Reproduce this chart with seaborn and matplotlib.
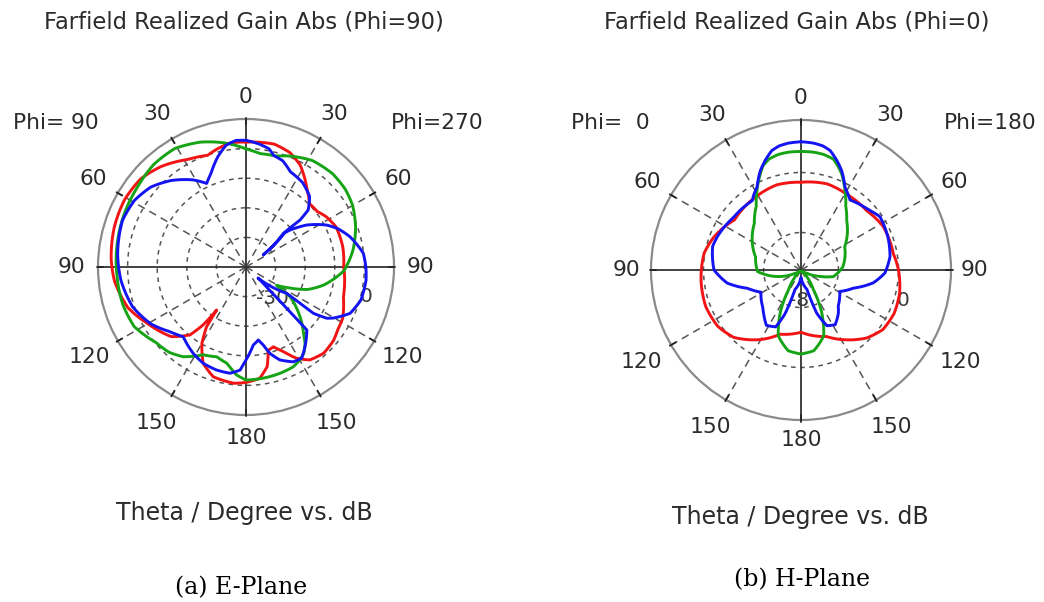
import numpy as np
import pandas as pd
import matplotlib
matplotlib.use("Agg")
import matplotlib.pyplot as plt
import seaborn as sns

# ---------------- data (theta clockwise from top in degrees, gain in dB) ----------------
# E-plane (Phi = 90 / 270)
e_red_theta = [0, 13, 21, 28, 37, 45, 52, 58, 66, 78, 90, 107, 118, 124, 130, 138, 145.5, 151, 156, 161,
               165, 168, 173, 180, 186, 196.6, 204, 210, 213.4, 214.3, 216.5, 219.5, 227, 240, 251, 264,
               273, 287, 299, 310, 320, 331.6, 341, 346.5, 353]
e_red_gain = [2.2, 2.6, 1.4, -1.0, -6.0, -9.7, -9.5, -8.0, -6.7, -6.6, -7.0, -5.6, -3.0, -2.5, -1.4, -0.8,
              -1.9, -4.7, -8.7, -11.5, -10.9, -5.6, -2.1, -1.0, -0.5, -1.3, -4.4, -10.2, -15.8, -22.4,
              -15.7, -10.3, -5.5, -1.7, 2.2, 4.7, 5.6, 6.5, 6.9, 6.4, 4.4, 1.3, -0.1, 1.1, 2.3]

e_green_theta = [0, 7, 15, 22, 32, 43, 52, 60, 70, 81, 92, 103, 110, 116, 121, 124, 134, 139, 142.4, 146,
                 150, 154.6, 162, 171, 180, 185, 191, 198, 206, 215, 222, 230, 242, 253, 267, 282, 294,
                 306, 318, 329, 340, 350, 356]
e_green_gain = [-0.1, -1.4, -1.2, 0.4, 2.4, 3.0, 2.6, 1.6, -0.6, -3.4, -6.8, -13.0, -17.8, -24.0, -28.0,
                -22.0, -14.1, -10.4, -7.3, -5.0, -3.7, -2.7, -2.3, -2.0, -1.8, -3.4, -6.8, -8.1, -7.0,
                -3.0, -1.2, -0.3, 2.8, 3.5, 3.7, 4.3, 4.9, 5.5, 6.6, 6.7, 4.9, 2.6, 1.0]

e_blue_theta = [0, 6, 11, 14, 19, 25, 34, 42, 47.5, 49, 48, 55, 48.5, 50, 55.3, 62.5, 67.3, 73.8, 83.3,
                90, 96.3, 106, 114, 120.3, 122.4, 124.5, 123.9, 122.9, 132.5, 134.6, 135.5, 136, 143.5,
                148.6, 153.5, 160, 164.5, 167.5, 170.4, 174.7, 180, 183.3, 188.6, 195.9, 203.9, 211.4,
                222, 229.6, 239, 250.6, 264, 276, 290.7, 300.8, 310, 319, 328.8, 334.8, 339.4, 345.6,
                350.7, 355.5]
e_blue_gain = [2.8, 1.8, 0.7, -1.2, -2.0, -4.5, -5.7, -7.9, -11.5, -15.8, -23.0, -32.9, -22.5, -20.6,
               -15.1, -9.3, -6.4, -3.4, -0.1, 0.5, 0.8, 0.4, -1.5, -5.8, -7.7, -12.4, -18.0, -23.6,
               -34.5, -29.0, -19.7, -10.4, -6.5, -3.9, -4.2, -6.6, -9.7, -13.0, -15.0, -13.5, -8.6,
               -5.1, -3.7, -3.8, -4.4, -5.8, -8.3, -6.3, -2.6, 0.6, 2.5, 3.6, 4.6, 3.9, 2.0, -1.3,
               -5.6, -8.8, -6.3, -1.6, 1.7, 2.9]

# H-plane (Phi = 0 / 180)
h_red_theta = [0, 17, 31, 48, 62, 80, 90, 103, 115, 126, 136, 147, 159, 180, 198, 210, 225, 236, 249,
               264, 280, 291, 307, 330, 344]
h_red_gain = [-1.3, -1.0, -1.2, -1.2, -0.6, -0.5, 0.0, 0.5, 0.7, 0.5, -0.4, -1.9, -3.5, -4.7, -4.0,
              -2.3, -0.3, 0.4, 0.6, 0.4, 0.1, -0.6, -1.9, -1.5, -1.2]

h_blue_theta = [0, 5.7, 10, 13.7, 18, 22.3, 28, 32.4, 35, 47, 56, 69, 81.5, 92, 100, 109, 119, 134, 139,
                148, 155, 160, 163, 180, 197, 200, 204, 212, 221, 226, 241, 251, 260, 270, 285, 292,
                308, 325, 327.6, 332, 337.7, 342, 346.3, 350, 354.3]
h_blue_gain = [4.1, 4.0, 3.8, 3.4, 2.4, 1.3, -0.5, -1.2, -1.6, -1.0, -0.3, -0.6, -1.0, -1.8, -3.2, -5.6,
               -7.1, -6.1, -5.4, -4.4, -4.8, -6.9, -10.3, -12.0, -10.3, -6.8, -4.7, -4.3, -5.4, -5.9,
               -6.9, -5.5, -3.0, -1.4, -0.8, -1.0, -1.6, -1.7, -1.2, -0.5, 1.3, 2.4, 3.4, 3.8, 4.0]

h_green_theta = [0, 6, 11, 16.3, 20, 23, 29, 35, 42.6, 62, 85.5, 101.5, 109, 119, 135, 147.7, 154, 161,
                 171, 180, 189, 199, 206, 212.3, 225, 241, 251, 268, 286, 315, 325, 331, 337, 340, 344,
                 349, 354]
h_green_gain = [2.8, 2.8, 2.7, 2.4, 1.6, 0.9, -0.9, -2.6, -4.0, -6.4, -7.4, -8.6, -10.4, -12.1, -12.8,
                -9.9, -6.7, -3.7, -2.1, -1.8, -2.1, -3.7, -6.7, -9.9, -12.8, -12.1, -10.4, -7.2, -6.7,
                -4.2, -2.6, -0.9, 0.9, 1.8, 2.4, 2.7, 2.8]

angle_ticks = [0, 30, 60, 90, 120, 150, 180, 210, 240, 270, 300, 330]
angle_tick_labels = ["0", "30", "60", "90", "120", "150", "180", "150", "120", "90", "60", "30"]

series_colors = {"red": "#f21414", "green": "#16a416", "blue": "#1414f2"}

# ---------------- styling ----------------
sns.set_theme(style="white")
plt.rcParams['font.family'] = ['DejaVu Sans']
TXT = "#2b2b2b"

W, H = 1044, 602
fig = plt.figure(figsize=(W / 100, H / 100), dpi=100)
fig.patch.set_facecolor("white")


def px_rect(cx, cy, r):
    return [(cx - r) / W, 1 - (cy + r) / H, 2 * r / W, 2 * r / H]


def closed(theta, gain):
    # close the loop by returning to the first sample one full turn later
    t = list(theta) + [theta[0] + 360]
    g = list(gain) + [gain[0]]
    return np.deg2rad(t), np.array(g)


def panel(cx, cy, rad, rmin, rmax, rings, ring_texts, curves, kmap):
    ax = fig.add_axes(px_rect(cx, cy, rad), projection="polar")
    ax.set_theta_zero_location("N")
    ax.set_theta_direction(-1)
    ax.set_facecolor("none")
    ax.grid(False)

    # data curves via seaborn
    frames = []
    for name, (th, gn) in curves.items():
        t, g = closed(th, gn)
        frames.append(pd.DataFrame({"theta": t, "gain": g, "series": name}))
    df = pd.concat(frames, ignore_index=True)
    sns.lineplot(data=df, x="theta", y="gain", hue="series", palette=series_colors,
                 sort=False, estimator=None, ax=ax, legend=False,
                 linewidth=2.1, zorder=4)
    # draw segments along the polar grid (arcs) rather than as chords
    for ln in ax.lines:
        ln.get_path()._interpolation_steps = 24
        ln.set_solid_joinstyle("round")
        ln.set_solid_capstyle("round")

    ax.set_xlim(0, 2 * np.pi)
    ax.set_ylim(rmin, rmax)
    ax.set_xlabel("")
    ax.set_ylabel("")
    ax.set_xticks([])
    ax.set_yticks([])
    ax.spines["polar"].set_color("#8a8a8a")
    ax.spines["polar"].set_linewidth(1.6)

    # dashed rings
    tt = np.linspace(0, 2 * np.pi, 721)
    for rv in rings:
        ax.plot(tt, np.full_like(tt, rv), ls=(0, (3, 3)), color="#555555", lw=1.1, zorder=1)
    # radial spokes
    for a in angle_ticks:
        if a % 90 == 0:
            ax.plot([np.deg2rad(a)] * 2, [rmin, rmax], color="#333333", lw=1.3, zorder=2)
        else:
            ax.plot([np.deg2rad(a)] * 2, [rmin, rmax], ls=(0, (5, 3.5)), color="#555555",
                    lw=1.1, zorder=1)
    # small ticks on rim
    span = rmax - rmin
    for a in angle_ticks:
        ax.plot([np.deg2rad(a)] * 2, [rmax - 0.035 * span, rmax + 0.01 * span], color="#222222",
                lw=1.3, zorder=3, clip_on=False)

    # angle labels
    for a, lab in zip(angle_ticks, angle_tick_labels):
        k = kmap[min(a, 360 - a)]
        ax.text(np.deg2rad(a), rmin + k * span, lab, ha="center", va="center",
                fontsize=15.7, color=TXT, clip_on=False)

    # ring labels (axes fraction)
    for (xf, yf, lab) in ring_texts:
        ax.text(xf, yf, lab, transform=ax.transAxes, ha="center", va="center",
                fontsize=14.5, color="#3a3a3a", zorder=2)
    return ax


kmap_e = {0: 1.15, 30: 1.195, 60: 1.19, 90: 1.18, 120: 1.22, 150: 1.215, 180: 1.155}
kmap_h = {0: 1.147, 30: 1.19, 60: 1.18, 90: 1.16, 120: 1.225, 150: 1.205, 180: 1.135}

panel(246, 267, 148, -40, 10, [-30, -20, -10, 0],
      [(0.588, 0.395, "-30"), (0.905, 0.399, "0")],
      {"red": (e_red_theta, e_red_gain), "green": (e_green_theta, e_green_gain),
       "blue": (e_blue_theta, e_blue_gain)}, kmap_e)

panel(801, 270, 150, -13, 7, [-8, 0],
      [(0.493, 0.397, "-8"), (0.84, 0.40, "0")],
      {"red": (h_red_theta, h_red_gain), "green": (h_green_theta, h_green_gain),
       "blue": (h_blue_theta, h_blue_gain)}, kmap_h)


def ftext(x, y, s, **kw):
    fig.text(x / W, 1 - y / H, s, ha="center", va="center", **kw)


ftext(244, 22, "Farfield Realized Gain Abs (Phi=90)", fontsize=16.3, color=TXT)
ftext(797, 22, "Farfield Realized Gain Abs (Phi=0)", fontsize=16.3, color=TXT)
ftext(56, 123, "Phi= 90", fontsize=15.7, color=TXT)
ftext(437, 123, "Phi=270", fontsize=15.7, color=TXT)
ftext(610, 123, "Phi=  0", fontsize=15.7, color=TXT)
ftext(990, 123, "Phi=180", fontsize=15.7, color=TXT)
ftext(244.5, 513, "Theta / Degree vs. dB", fontsize=17, color=TXT)
ftext(800, 517, "Theta / Degree vs. dB", fontsize=17, color=TXT)
ftext(241, 588, "(a) E-Plane", fontsize=17, color="black", family="DejaVu Serif")
ftext(802, 580, "(b) H-Plane", fontsize=17, color="black", family="DejaVu Serif")

fig.savefig("out.png", dpi=100, facecolor="white")
